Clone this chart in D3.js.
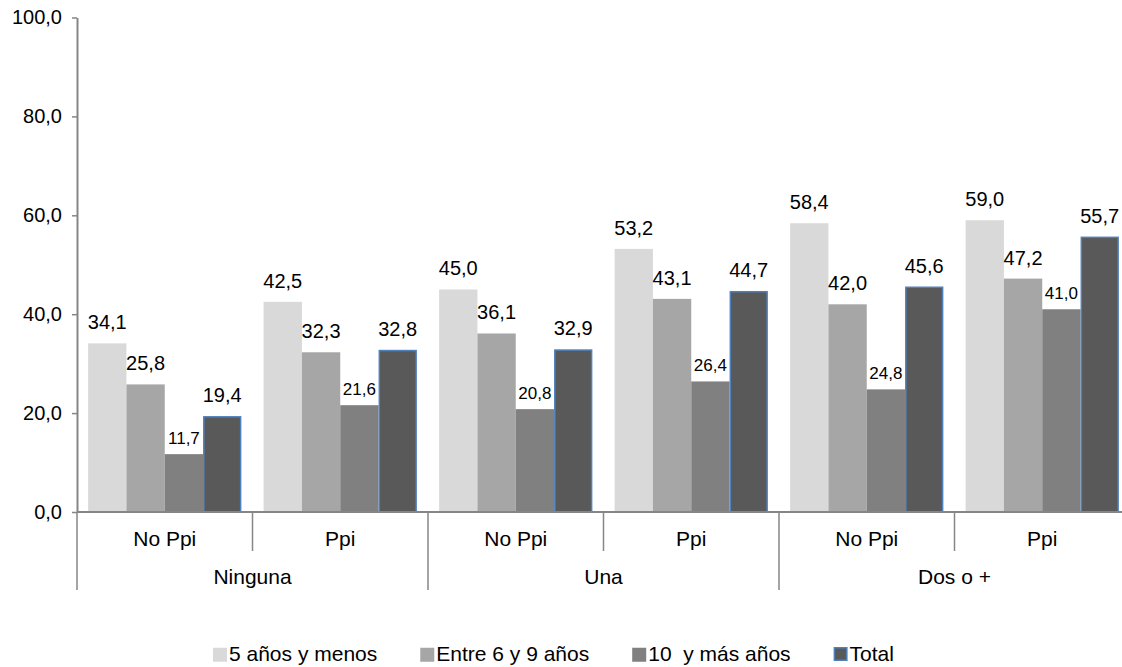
<!DOCTYPE html>
<html>
<head>
<meta charset="utf-8">
<script src="https://cdn.jsdelivr.net/npm/d3@7"></script>
<style>
  html, body { margin: 0; padding: 0; background: #fff; }
  svg { display: block; font-family: "Liberation Sans", Arial, sans-serif; }
  text { white-space: pre; }
</style>
</head>
<body>
<svg id="chart" width="1122" height="667"></svg>
<script>
// Grupos y subgrupos del eje de categorías
const groups = ["Ninguna", "Una", "Dos o +"];
const subgroups = ["No Ppi", "Ppi"];

// Series (orden: Ninguna/No Ppi, Ninguna/Ppi, Una/No Ppi, Una/Ppi, Dos o +/No Ppi, Dos o +/Ppi)
const seriesNames = ["5 años y menos", "Entre 6 y 9 años", "10  y más años", "Total"];
const valores5yMenos = [34.1, 42.5, 45.0, 53.2, 58.4, 59.0];
const valores6a9 = [25.8, 32.3, 36.1, 43.1, 42.0, 47.2];
const valores10yMas = [11.7, 21.6, 20.8, 26.4, 24.8, 41.0];
const valoresTotal = [19.4, 32.8, 32.9, 44.7, 45.6, 55.7];

const yTicks = [0, 20, 40, 60, 80, 100];

const seriesValues = [valores5yMenos, valores6a9, valores10yMas, valoresTotal];
const fills = ["#d9d9d9", "#a6a6a6", "#808080", "#595959"];
const axisColor = "#868686";

const svg = d3.select("#chart");
const x0 = 77, x1 = 1130, yTop = 17.5, yBase = 512;

const locale = d3.formatLocale({ decimal: ",", thousands: ".", grouping: [3], currency: ["", ""] });
const fmt = locale.format(".1f");

// Subcategory keys, one band per group/subgroup pair
const cells = [];
groups.forEach(g => subgroups.forEach(s => cells.push({ group: g, sub: s, key: g + "|" + s })));

const xGroup = d3.scaleBand().domain(groups).range([x0, x1]).padding(0);
const xCell = d3.scaleBand().domain(cells.map(c => c.key)).range([x0, x1]).padding(0);
const xSeries = d3.scaleBand().domain(seriesNames).range([0, xCell.bandwidth()])
  .paddingInner(0).paddingOuter(0.29);
const y = d3.scaleLinear().domain([0, 100]).range([yBase, yTop]);

// Y axis
const yAxis = svg.append("g")
  .attr("transform", `translate(${x0},0)`)
  .call(d3.axisLeft(y).tickValues(yTicks).tickFormat(fmt).tickSize(5).tickPadding(10).tickSizeOuter(0));
yAxis.select(".domain").attr("stroke", axisColor).attr("stroke-width", 2);
yAxis.selectAll(".tick line").attr("stroke", axisColor).attr("stroke-width", 1.5);
yAxis.selectAll(".tick text")
  .attr("fill", "#000").attr("font-size", 20)
  .attr("font-family", "'Liberation Sans', Arial, sans-serif");

// Bars
const barData = [];
cells.forEach((c, i) => {
  seriesNames.forEach((s, j) => {
    barData.push({ cell: c.key, series: s, si: j, value: seriesValues[j][i] });
  });
});

const bars = svg.append("g");
bars.selectAll("rect").data(barData).join("rect")
  .attr("x", d => xCell(d.cell) + xSeries(d.series) + (d.si === 3 ? 0.75 : 0))
  .attr("y", d => y(d.value) + (d.si === 3 ? 0.75 : 0))
  .attr("width", d => xSeries.bandwidth() - (d.si === 3 ? 1.5 : 0))
  .attr("height", d => yBase - y(d.value) - (d.si === 3 ? 0.75 : 0))
  .attr("fill", d => fills[d.si])
  .attr("stroke", d => d.si === 3 ? "#4f81bd" : "none")
  .attr("stroke-width", 1.5);

// Value labels
bars.selectAll("text").data(barData).join("text")
  .attr("x", d => xCell(d.cell) + xSeries(d.series) + xSeries.bandwidth() / 2)
  .attr("y", d => y(d.value) - (d.si === 2 ? 10 : 14))
  .attr("text-anchor", "middle")
  .attr("font-size", d => d.si === 2 ? 17 : 20)
  .attr("fill", "#000")
  .text(d => fmt(d.value));

// Category axis line
svg.append("line")
  .attr("x1", x0).attr("x2", x1).attr("y1", yBase).attr("y2", yBase)
  .attr("stroke", axisColor).attr("stroke-width", 2);

// Separators: short between subgroups, long between groups
const catAxis = svg.append("g");
cells.forEach((c, i) => {
  const xs = xCell(c.key);
  const isGroupStart = i % subgroups.length === 0;
  catAxis.append("line")
    .attr("x1", xs).attr("x2", xs)
    .attr("y1", yBase).attr("y2", isGroupStart ? 590 : 551)
    .attr("stroke", axisColor).attr("stroke-width", 1.5);
});
catAxis.append("line")
  .attr("x1", x1).attr("x2", x1).attr("y1", yBase).attr("y2", 590)
  .attr("stroke", axisColor).attr("stroke-width", 1.5);

catAxis.selectAll("text.sub").data(cells).join("text")
  .attr("class", "sub")
  .attr("x", d => xCell(d.key) + xCell.bandwidth() / 2)
  .attr("y", 546)
  .attr("text-anchor", "middle").attr("font-size", 21).attr("fill", "#000")
  .text(d => d.sub);

catAxis.selectAll("text.grp").data(groups).join("text")
  .attr("class", "grp")
  .attr("x", d => xGroup(d) + xGroup.bandwidth() / 2)
  .attr("y", 584)
  .attr("text-anchor", "middle").attr("font-size", 21).attr("fill", "#000")
  .text(d => d);

// Legend
const legend = svg.append("g");
let lx = 213;
seriesNames.forEach((s, j) => {
  const item = legend.append("g").attr("transform", `translate(${lx},0)`);
  item.append("rect")
    .attr("x", j === 3 ? 0.75 : 0).attr("y", 647.75)
    .attr("width", j === 3 ? 12.5 : 14).attr("height", j === 3 ? 12.5 : 14)
    .attr("fill", fills[j])
    .attr("stroke", j === 3 ? "#4f81bd" : "none").attr("stroke-width", 1.5);
  const t = item.append("text")
    .attr("x", 16).attr("y", 661)
    .attr("font-size", 21).attr("fill", "#000")
    .text(s);
  lx += 16 + t.node().getComputedTextLength() + 43;
});
</script>
</body>
</html>
